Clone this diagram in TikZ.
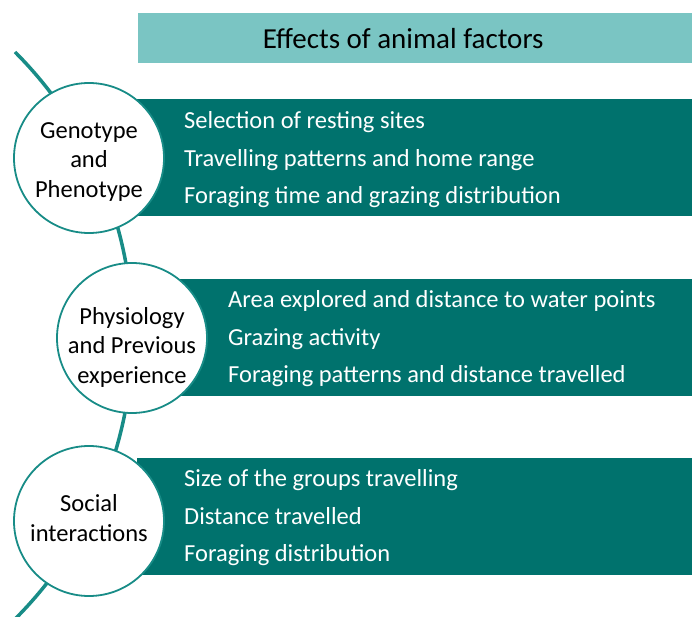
\documentclass[tikz,border=0pt]{standalone}
\usepackage{fontspec}
\setmainfont{Carlito}
\definecolor{darkteal}{RGB}{0,114,109}
\definecolor{lightteal}{RGB}{122,197,195}
\definecolor{lineteal}{RGB}{24,140,135}
\begin{document}
\begin{tikzpicture}
      [x=1pt,y=-1pt,
      spine/.style={draw=lineteal,line width=3.5pt},
      bar/.style={rectangle,fill=darkteal,anchor=north west,minimum height=117pt,inner sep=0pt},
      item/.style={anchor=west,align=left,text=white,inner sep=0pt,font=\fontsize{24.5}{37.5}\selectfont},
      factor/.style={circle,draw=lineteal,line width=1.8pt,fill=white,minimum size=150pt,inner sep=0pt},
      factor text/.style={align=center,inner sep=0pt,font=\fontsize{24.5}{29.5}\selectfont}]
      \useasboundingbox (0,0) rectangle (692,617);
      \node[rectangle,fill=lightteal,anchor=north west,minimum width=554pt,minimum height=50pt,
        inner sep=0pt] (title) at (138,13) {};
      \node[font=\fontsize{29}{32}\selectfont] (titletext) at ([xshift=-12pt]title.center) {Effects of animal factors};
      % spine behind the circles
      \coordinate (top) at (15,52);
      \draw[spine] (top) arc[start angle=-45,end angle=45,radius=401] coordinate (bottom);
      \node[bar,minimum width=555pt] (bar1) at (137,99) {};
      \node[bar,minimum width=512pt] (bar2) at (180,279) {};
      \node[bar,minimum width=555pt] (bar3) at (137,458) {};
      \node[item] (list1) at (184,160) {Selection of resting sites\\Travelling patterns and home range\\Foraging time and grazing distribution};
      \node[item] (list2) at (228,339) {Area explored and distance to water points\\Grazing activity\\Foraging patterns and distance travelled};
      \node[item] (list3) at (184,518) {Size of the groups travelling\\Distance travelled\\Foraging distribution};
      \node[factor] (f1) at (89,158) {};
      \node[factor] (f2) at (132,338) {};
      \node[factor] (f3) at (89,521) {};
      \node[factor text] (f1text) at ([yshift=-4pt]f1.center) {Genotype\\and\\Phenotype};
      \node[factor text] (f2text) at ([yshift=-9pt]f2.center) {Physiology\\and Previous\\experience};
      \node[factor text] (f3text) at ([yshift=3pt]f3.center) {Social\\interactions};
    \end{tikzpicture}
\end{document}
